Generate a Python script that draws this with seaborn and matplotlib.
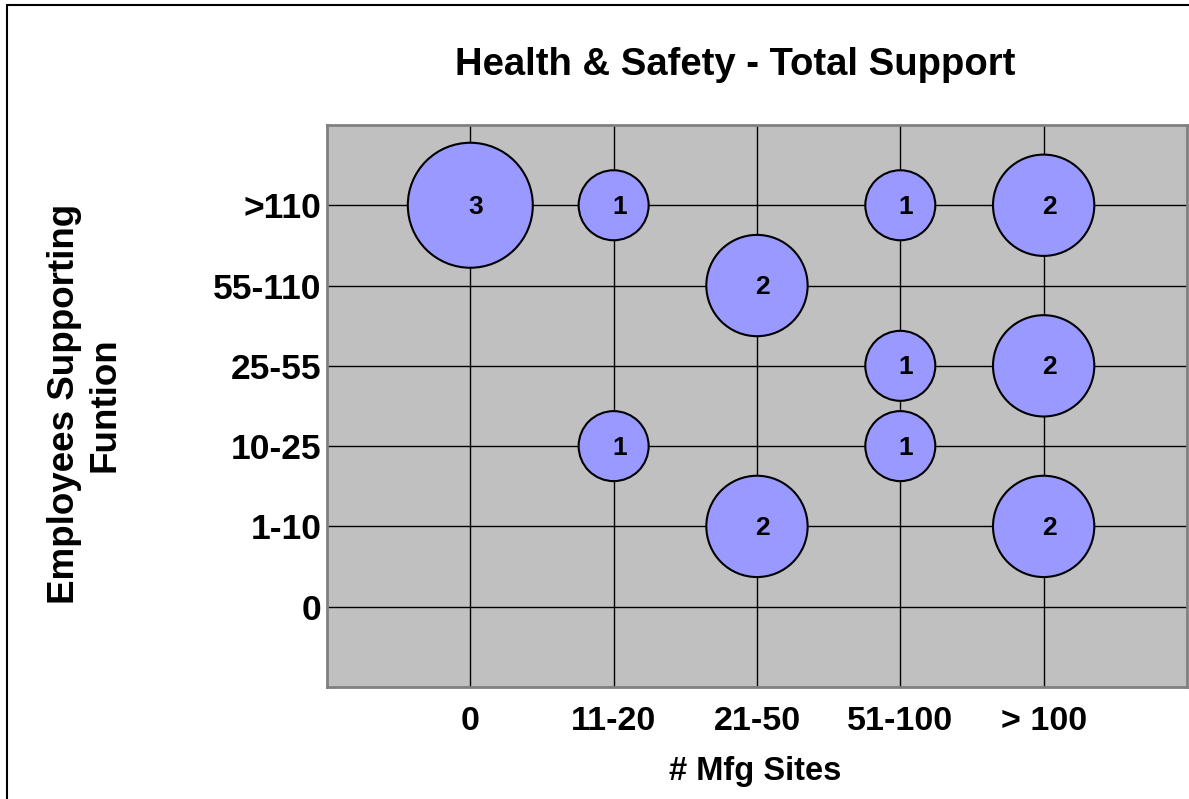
import matplotlib
matplotlib.use("Agg")
import matplotlib.pyplot as plt
from matplotlib.lines import Line2D
import pandas as pd
import seaborn as sns

# categories
site_labels = ["0", "11-20", "21-50", "51-100", "> 100"]
emp_labels = ["0", "1-10", "10-25", "25-55", "55-110", ">110"]

# bubbles: site category, employee category, count
bubble_sites = ["0", "11-20", "51-100", "> 100", "21-50", "51-100", "> 100",
                "11-20", "51-100", "21-50", "> 100"]
bubble_emps = [">110", ">110", ">110", ">110", "55-110", "25-55", "25-55",
               "10-25", "10-25", "1-10", "1-10"]
bubble_counts = [3, 1, 1, 2, 2, 1, 2, 1, 1, 2, 2]

df = pd.DataFrame({"site": bubble_sites, "emp": bubble_emps, "count": bubble_counts})
df["x"] = df["site"].map({s: i for i, s in enumerate(site_labels)})
df["y"] = df["emp"].map({e: i for i, e in enumerate(emp_labels)})

sns.set_style("white")
plt.rcParams["font.family"] = ["Liberation Sans", "DejaVu Sans"]
plt.rcParams["text.color"] = "black"
plt.rcParams["xtick.color"] = "black"
plt.rcParams["ytick.color"] = "black"

fig = plt.figure(figsize=(11.89, 7.99), dpi=100)
ax = fig.add_axes([0.2750, 0.1402, 0.7233, 0.7034])
ax.set_facecolor("#c0c0c0")

ax.set_xticks(range(len(site_labels)))
ax.set_yticks(range(len(emp_labels)))
ax.grid(True, color="black", linewidth=1)
ax.set_axisbelow(True)

sns.scatterplot(data=df, x="x", y="y", size="count", sizes=(2540, 8100),
                size_norm=(1, 3), color="#9999ff", edgecolor="black",
                linewidth=1.5, alpha=1, legend=False, ax=ax, zorder=3)

for _, r in df.iterrows():
    ax.annotate(str(r["count"]), (r["x"], r["y"]), xytext=(4, -1),
                textcoords="offset points", ha="center", va="center",
                fontsize=19, fontweight="bold", color="black", zorder=4)

ax.set_xlim(-1, 5)
ax.set_ylim(-1, 6)
ax.set_xticklabels(site_labels, fontsize=24.5, fontweight="bold")
ax.set_yticklabels(emp_labels, fontsize=25.5, fontweight="bold")
ax.tick_params(axis="x", length=0, pad=14)
ax.tick_params(axis="y", length=0, pad=4)
ax.set_xlabel("")
ax.set_ylabel("")
for sp in ax.spines.values():
    sp.set_color("#808080")
    sp.set_linewidth(2)
    sp.set_visible(True)

fig.text(0.618, 0.919, "Health & Safety - Total Support", ha="center", va="center",
         fontsize=27.5, fontweight="bold")
fig.text(0.635, 0.034, "# Mfg Sites", ha="center", va="center",
         fontsize=23.5, fontweight="bold")
fig.text(0.0715, 0.494, "Employees Supporting\nFuntion", ha="center", va="center",
         rotation=90, multialignment="center", fontsize=26.5, fontweight="bold",
         linespacing=1.2)

# outer frame (left and top edges of the slide box)
fig.add_artist(Line2D([7 / 1189, 7 / 1189], [0, 1 - 5 / 799], color="black",
                      linewidth=1.5, transform=fig.transFigure))
fig.add_artist(Line2D([7 / 1189, 1], [1 - 5 / 799, 1 - 5 / 799], color="black",
                      linewidth=1.5, transform=fig.transFigure))

fig.savefig("out.png", dpi=100)
